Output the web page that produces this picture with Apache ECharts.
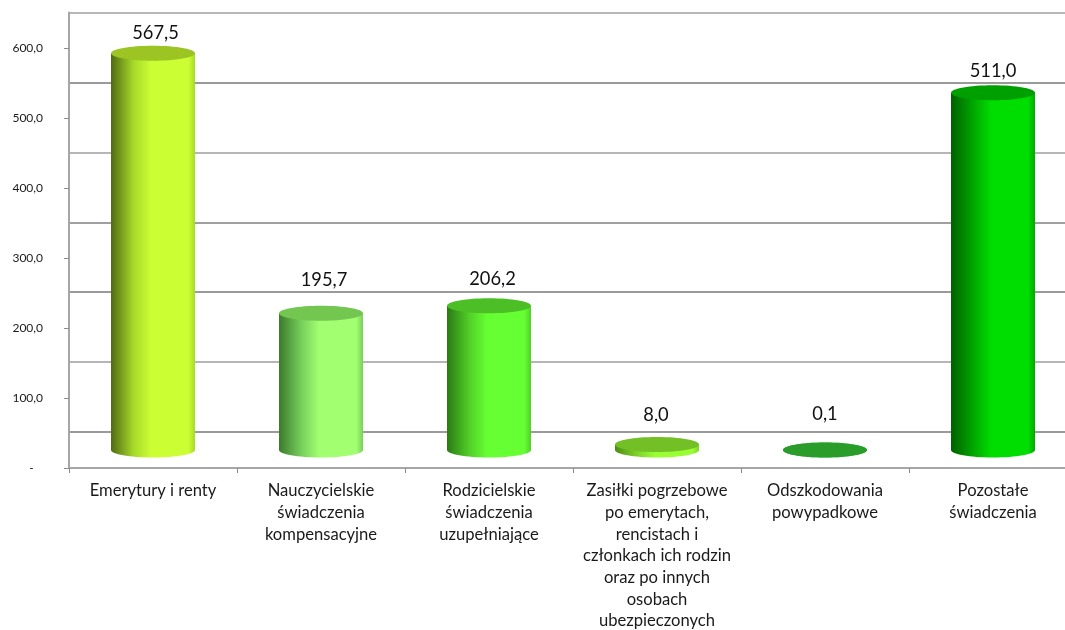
<!DOCTYPE html>
<html><head><meta charset="utf-8">
<style>html,body{margin:0;padding:0;background:#fff}#c{width:1065px;height:630px}</style>
<script src="https://cdn.jsdelivr.net/npm/echarts@6/dist/echarts.min.js"></script>
</head><body><div id="c"></div>
<script>
const categories = [
  'Emerytury i renty',
  'Nauczycielskie\nświadczenia\nkompensacyjne',
  'Rodzicielskie\nświadczenia\nuzupełniające',
  'Zasiłki pogrzebowe\npo emerytach,\nrencistach i\nczłonkach ich rodzin\noraz po innych\nosobach\nubezpieczonych',
  'Odszkodowania\npowypadkowe',
  'Pozostałe\nświadczenia'
];
const values = [567.5, 195.7, 206.2, 8.0, 0.1, 511.0];
const darkColors = ['#526a12', '#3c7a2c', '#2a7a14', '#4d8a14', '#1f7a1f', '#006000'];
const midColors  = ['#a6d92a', '#78d05c', '#52d028', '#80d428', '#2a9c2a', '#00a800'];
const lightColors= ['#ccff33', '#a2ff70', '#66ff33', '#99ff33', '#33cc33', '#00dd00'];
const topColors  = ['#9cc423', '#73c64f', '#4cbf26', '#73bf26', '#2a9c2a', '#009f00'];
const labelGaps  = [20.5, 33.5, 27, 29, 35.5, 22];
const labelShifts = [2.5, 3, 3.5, -1, 0, 0];
const depth = 18, rx = 42, ry = 7.5;
const fmt = v => v.toFixed(1).replace('.', ',');

function renderCyl(params, api) {
  const i = api.value(0), p = api.coord([i, api.value(1)]), b = api.coord([i, 0]);
  const cx = p[0], top = p[1] - depth, base = b[1] - depth;
  const grad = new echarts.graphic.LinearGradient(0, 0, 1, 0, [
    {offset: 0, color: darkColors[i]},
    {offset: 0.27, color: midColors[i]},
    {offset: 0.48, color: lightColors[i]},
    {offset: 0.92, color: lightColors[i]},
    {offset: 1, color: midColors[i]}
  ]);
  return {type: 'group', children: [
    {type: 'ellipse', shape: {cx, cy: base, rx, ry}, style: {fill: grad}},
    {type: 'rect', shape: {x: cx - rx, y: top, width: rx * 2, height: base - top}, style: {fill: grad}},
    {type: 'ellipse', shape: {cx, cy: top, rx, ry}, style: {fill: topColors[i]}},
    {type: 'text', style: {x: cx + labelShifts[i], y: top - labelGaps[i], text: fmt(api.value(1)), align: 'center', verticalAlign: 'middle',
      font: '18.3px Lato', fill: '#111'}}
  ]};
}

const chart = echarts.init(document.getElementById('c'), null, {renderer: 'canvas'});
chart.setOption({
  animation: false,
  backgroundColor: '#fff',
  grid: [
    {left: 69, top: 48.5, width: 1008, height: 419.5, outerBoundsMode: 'none'},
    {left: 69, top: 12.5, width: 1008, height: 419.5, outerBoundsMode: 'none'}
  ],
  xAxis: [
    {type: 'category', gridIndex: 0, data: categories,
     axisLine: {lineStyle: {color: '#a6a6a6', width: 2}},
     axisTick: {show: true, alignWithLabel: false, length: 5, lineStyle: {color: '#8c8c8c', width: 1}},
     axisLabel: {interval: 0, color: '#1a1a1a', fontFamily: 'Lato', fontSize: 16.6, lineHeight: 21.7, margin: 12, hideOverlap: false}},
    {type: 'category', gridIndex: 1, data: categories, show: false}
  ],
  yAxis: [
    {type: 'value', gridIndex: 0, min: 0, max: 600, interval: 100,
     axisLine: {show: true, lineStyle: {color: '#a6a6a6', width: 2}},
     axisTick: {show: true, length: 5, lineStyle: {color: '#8c8c8c', width: 1}},
     splitLine: {show: false},
     axisLabel: {color: '#1a1a1a', fontFamily: 'Lato', fontSize: 12, margin: 26,
       formatter: v => v === 0 ? '-\u00a0\u00a0\u00a0' : fmt(v)}},
    {type: 'value', gridIndex: 1, min: 0, max: 600, interval: 100,
     axisLine: {show: true, lineStyle: {color: '#a6a6a6', width: 2}},
     axisTick: {show: false}, axisLabel: {show: false},
     splitLine: {show: true, lineStyle: {color: ['#9a9a9a', '#b6b6b6', '#9a9a9a', '#a0a0a0', '#b6b6b6', '#9a9a9a', '#b6b6b6'], width: 2}}}
  ],
  series: [{
    type: 'custom', xAxisIndex: 0, yAxisIndex: 0, clip: false, z: 5,
    data: values.map((v, i) => [i, v]),
    renderItem: renderCyl
  }]
});
</script></body></html>
